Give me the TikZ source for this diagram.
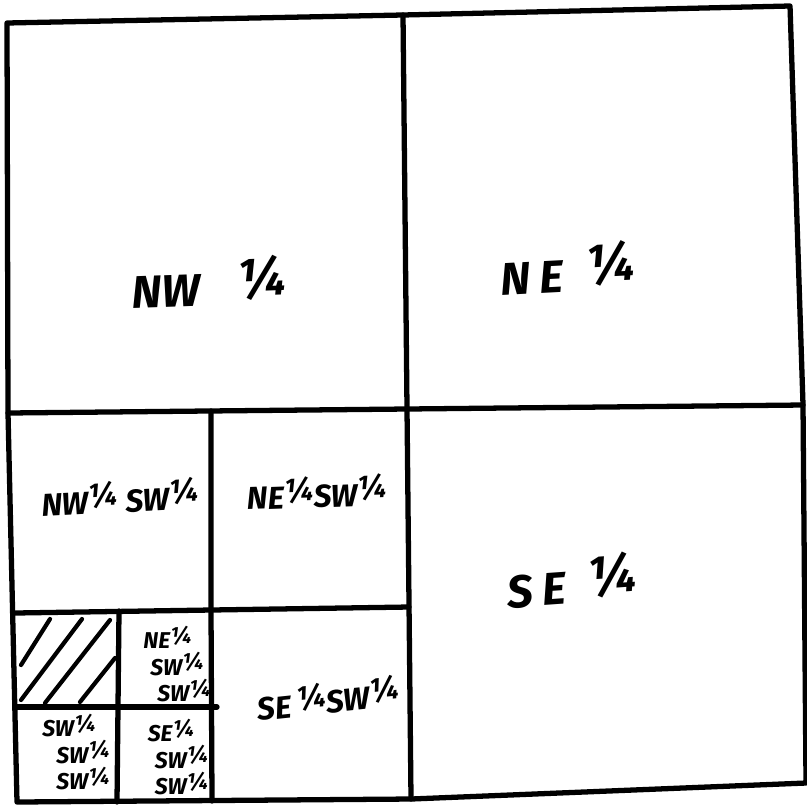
\documentclass[tikz,border=0pt]{standalone}
\usepackage{fontspec}
\setmainfont{Fira Sans}
\usetikzlibrary{positioning}
\newcommand{\qtr}{\raisebox{0.45ex}{¼}}
\newcommand{\bigqtr}{\raisebox{0.35ex}{\fontsize{15}{15}\selectfont ¼}}

\begin{document}
\begin{tikzpicture}[
  x=0.01cm,
  y=-0.01cm,
  line cap=round,
  line join=round,
  boundary/.style={
    draw=black,
    line width=1.5pt
  },
  hatch/.style={
    draw=black,
    line width=1.2pt
  },
  quarter/.style={
    font=\fontsize{13}{15}\selectfont\itshape\bfseries,
    inner sep=0pt
  },
  sixteenth/.style={
    font=\fontsize{9}{11}\selectfont\itshape\bfseries,
    inner sep=0pt
  },
  parcel/.style={
    font=\fontsize{6.5}{7.6}\selectfont\itshape\bfseries,
    align=left,
    inner sep=0pt
  }
]
\useasboundingbox (0,0) rectangle (807,806);

% ------------------------------------------------
% Section outline
% ------------------------------------------------
\coordinate (tl) at (7,23);
\coordinate (tm) at (403,15);
\coordinate (tr) at (790,6);
\coordinate (ml) at (8,413);
\coordinate (mc) at (407,409);
\coordinate (mr) at (803,405);
\coordinate (bl) at (17,802);
\coordinate (bm) at (411,799);
\coordinate (br) at (806,783);

\draw[boundary] (tl) -- (tm) -- (tr) -- (mr) -- (br) -- (bm) -- (bl) -- (ml) -- cycle;
\draw[boundary] (tm) -- (mc) -- (bm);
\draw[boundary] (ml) -- (mc) -- (mr);

% ------------------------------------------------
% SW quarter split
% ------------------------------------------------
\coordinate (qt) at (211,411);
\coordinate (qb) at (212,801);
\coordinate (ql) at (15,613);
\coordinate (qc) at (211,610);
\coordinate (qr) at (409,607);

\draw[boundary] (qt) -- (qc) -- (qb);
\draw[boundary] (ql) -- (qc) -- (qr);

% SW SW split
\coordinate (st) at (119,611);
\coordinate (sb) at (117,802);
\coordinate (sl) at (16,707);
\coordinate (sr) at (217,707);

\draw[boundary] (st) -- (sb);
\draw[boundary] (sl) -- (sr);

% hatched forty
\draw[hatch] (21,665) -- (50,619);
\draw[hatch] (21,700) -- (82,619);
\draw[hatch] (45,703) -- (110,620);
\draw[hatch] (80,702) -- (115,658);

% ------------------------------------------------
% Labels
% ------------------------------------------------
\node[quarter, rotate=2] (nw) at (209,282) {NW\hspace{0.8em}\bigqtr};
\node[quarter, rotate=3] (ne) at (568,268) {N\hspace{0.2em}E\hspace{0.5em}\bigqtr};
\node[quarter, rotate=4] (se) at (572,580) {S\hspace{0.2em}E\hspace{0.5em}\bigqtr};

\node[sixteenth, rotate=3] (nwsw) at (120,497) {NW\qtr\ SW\qtr};
\node[sixteenth, rotate=2] (nesw) at (317,492) {NE\qtr SW\qtr};
\node[sixteenth, rotate=6] (sesw) at (328,698) {SE\,\qtr SW\qtr};

\node[parcel] (neswsw) at (177,664) {NE\qtr\\\hspace*{2pt}SW\qtr\\\hspace*{4pt}SW\qtr};
\node[parcel] (swswsw) at (76,752) {SW\qtr\\\hspace*{4pt}SW\qtr\\\hspace*{4pt}SW\qtr};
\node[parcel] (seswsw) at (178,757) {SE\qtr\\\hspace*{2pt}SW\qtr\\\hspace*{2pt}SW\qtr};

\end{tikzpicture}
\end{document}
